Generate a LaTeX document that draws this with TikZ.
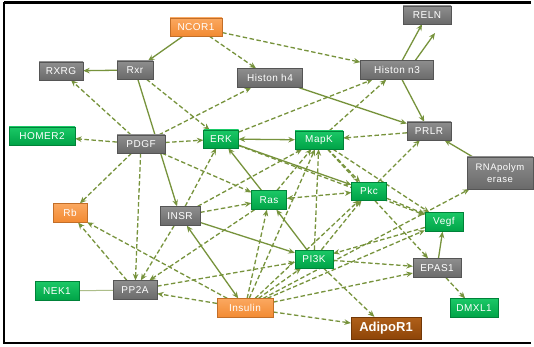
\documentclass[tikz,border=0pt]{standalone}
\usepackage{fontspec}
\setmainfont{Liberation Sans}
\usetikzlibrary{arrows.meta,shadows}
\pgfdeclarelayer{bg}\pgfsetlayers{bg,main}
\definecolor{edgec}{HTML}{77933C}
\definecolor{grayT}{HTML}{8E8E8E}\definecolor{grayB}{HTML}{6A6A6A}
\definecolor{greenT}{HTML}{1BC866}\definecolor{greenB}{HTML}{00A347}
\definecolor{orT}{HTML}{FBA860}\definecolor{orB}{HTML}{F28A32}
\definecolor{brT}{HTML}{B0601A}\definecolor{brB}{HTML}{8E4508}
\newfontfamily\boxfont[LetterSpace=5]{Liberation Sans}
\begin{document}
\begin{tikzpicture}[x=1pt,y=-1pt,
  box/.style={rectangle,inner sep=0pt,text=white,font=\boxfont\fontsize{10}{11}\selectfont,
    drop shadow={shadow xshift=0.8pt,shadow yshift=-0.8pt,opacity=0.3}},
  gbox/.style={box,top color=grayT,bottom color=grayB,draw=grayB!80!black,line width=0.3pt},
  grbox/.style={box,top color=greenT,bottom color=greenB,draw=greenB!80!black,line width=0.3pt},
  obox/.style={box,top color=orT,bottom color=orB,draw=orB!80!black,line width=0.3pt},
  bbox/.style={box,top color=brT,bottom color=brB,draw=brB!80!black,line width=0.3pt,font=\fontsize{13}{14}\bfseries},
  rel/.style={draw=edgec,line width=1.3pt,-{Stealth[length=6.5pt,width=5.5pt]}},
  drel/.style={rel,dash pattern=on 4.5pt off 2.5pt},
  brel/.style={rel,{Stealth[length=6.5pt,width=5.5pt]}-{Stealth[length=6.5pt,width=5.5pt]}},
  dbrel/.style={brel,dash pattern=on 4.5pt off 2.5pt},
  plain/.style={draw=edgec!60,line width=1pt}
]
\useasboundingbox (0,0) rectangle (534,347);
% nodes
\node[obox,minimum width=52pt,minimum height=18pt] (ncor) at (196,27) {NCOR1};
\node[gbox,minimum width=44pt,minimum height=18pt] (rxrg) at (61,71) {RXRG};
\node[gbox,minimum width=36pt,minimum height=18pt] (rxr) at (135,70) {Rxr};
\node[gbox,minimum width=65pt,minimum height=19pt] (hh4) at (270,78) {Histon h4};
\node[gbox,minimum width=73pt,minimum height=19pt] (hn3) at (397,70) {Histon n3};
\node[gbox,minimum width=48pt,minimum height=18pt] (reln) at (427,15) {RELN};
\node[grbox,minimum width=66pt,minimum height=18pt] (homer) at (42,136) {HOMER2};
\node[gbox,minimum width=48pt,minimum height=18pt] (pdgf) at (141,144) {PDGF};
\node[grbox,minimum width=35pt,minimum height=18pt] (erk) at (221,139) {ERK};
\node[grbox,minimum width=48pt,minimum height=18pt] (mapk) at (319,140) {MapK};
\node[gbox,minimum width=44pt,minimum height=18pt] (prlr) at (429,131) {PRLR};
\node[gbox,minimum width=66pt,minimum height=32pt,align=center,font=\boxfont\fontsize{9.5}{12}\selectfont] (rna) at (500,173) {RNApolym\\erase};
\node[grbox,minimum width=35pt,minimum height=18pt] (pkc) at (369,191) {Pkc};
\node[grbox,minimum width=35pt,minimum height=19pt] (ras) at (269,200) {Ras};
\node[gbox,minimum width=40pt,minimum height=19pt] (insr) at (180,216) {INSR};
\node[obox,minimum width=34pt,minimum height=19pt] (rb) at (70,213) {Rb};
\node[grbox,minimum width=38pt,minimum height=19pt] (vegf) at (444,222) {Vegf};
\node[grbox,minimum width=38pt,minimum height=18pt] (pi3k) at (314,259) {PI3K};
\node[gbox,minimum width=48pt,minimum height=19pt] (epas) at (437,268) {EPAS1};
\node[grbox,minimum width=44pt,minimum height=19pt] (nek) at (57,291) {NEK1};
\node[gbox,minimum width=44pt,minimum height=19pt] (pp2a) at (135,290) {PP2A};
\node[obox,minimum width=56pt,minimum height=19pt] (ins) at (245,308) {Insulin};
\node[grbox,minimum width=48pt,minimum height=19pt] (dmxl) at (474,308) {DMXL1};
\node[bbox,minimum width=70pt,minimum height=22pt] (adipo) at (386,328) {AdipoR1};
\coordinate (hn3b) at (407,72);
\coordinate (relnb) at (435,33);
\begin{pgfonlayer}{bg}
\fill[white] (0,0) rectangle (534,347);
\draw[line width=2.5pt] (4,2.5) -- (4,343) -- (531,343);
\draw[line width=2.5pt] (4,2.5) -- (531,2.5);
% solid
\draw[rel] (ncor) -- (rxr);
\draw[rel] (rxr) -- (rxrg);
\draw[rel] (rxr) -- (insr);
\draw[rel] (hh4) -- (prlr);
\draw[rel] (hn3) -- (prlr);
\draw[rel] (hn3) -- (reln);
\draw[rel] (hn3b) -- (relnb);
\draw[rel] (rna) -- (prlr);
\draw[brel] (erk) -- (mapk);
\draw[rel] (ras) -- (erk);
\draw[rel] (insr) -- (pi3k);
\draw[brel] (ins) -- (insr);
\draw[rel] (epas) -- (vegf);
\draw[plain] (nek) -- (pp2a);
\draw[rel] (pi3k) -- (ras);
\draw[rel] (erk) -- (pkc);
% dashed
\draw[drel] (ncor) -- (hh4);
\draw[drel] (ncor) -- (hn3);
\draw[drel] (pdgf) -- (rxrg);
\draw[drel] (rxr) -- (erk);
\draw[drel] (pdgf) -- (hh4);
\draw[drel] (pdgf) -- (homer);
\draw[drel] (pdgf) -- (erk);
\draw[drel] (pdgf) -- (rb);
\draw[drel] (pdgf) -- (pp2a);
\draw[drel] (pdgf) -- (ras);
\draw[drel] (erk) -- (hn3);
\draw[drel] (mapk) -- (hn3);
\draw[drel] (prlr) -- (mapk);
\draw[drel] (insr) -- (erk);
\draw[drel] (pkc) -- (prlr);
\draw[drel] (pi3k) -- (pkc);
\draw[drel] (mapk) -- (pkc);
\draw[drel] (mapk) -- (vegf);
\draw[drel] (pkc) -- (vegf);
\draw[drel] (ins) -- (rna);
\draw[drel] (ins) -- (pp2a);
\draw[drel] (ins) -- (adipo);
\draw[drel] (ins) -- (epas);
\draw[drel] (ins) -- (vegf);
\draw[drel] (ins) -- (pi3k);
\draw[drel] (pi3k) -- (adipo);
\draw[drel] (pi3k) -- (epas);
\draw[drel] (epas) -- (dmxl);
\draw[dbrel] (ras) -- (pkc);
\draw[drel] (ras) -- (mapk);
\draw[drel] (pi3k) -- (mapk);
\draw[drel] (insr) -- (mapk);
\draw[drel] (insr) -- (ras);
\draw[drel] (ins) -- (ras);
\draw[drel] (ins) -- (mapk);
\draw[drel] (ins) -- (pkc);
\draw[drel] (pp2a) -- (rb);
\draw[drel] (ins) -- (rb);
\draw[drel] (insr) -- (pp2a);
\draw[drel] (ras) -- (pp2a);
\draw[drel] (erk) -- (vegf);
\draw[drel] (mapk) -- (epas);
\draw[drel] (vegf) -- (pi3k);
\draw[drel] (pp2a) -- (pi3k);
\end{pgfonlayer}
\end{tikzpicture}
\end{document}
